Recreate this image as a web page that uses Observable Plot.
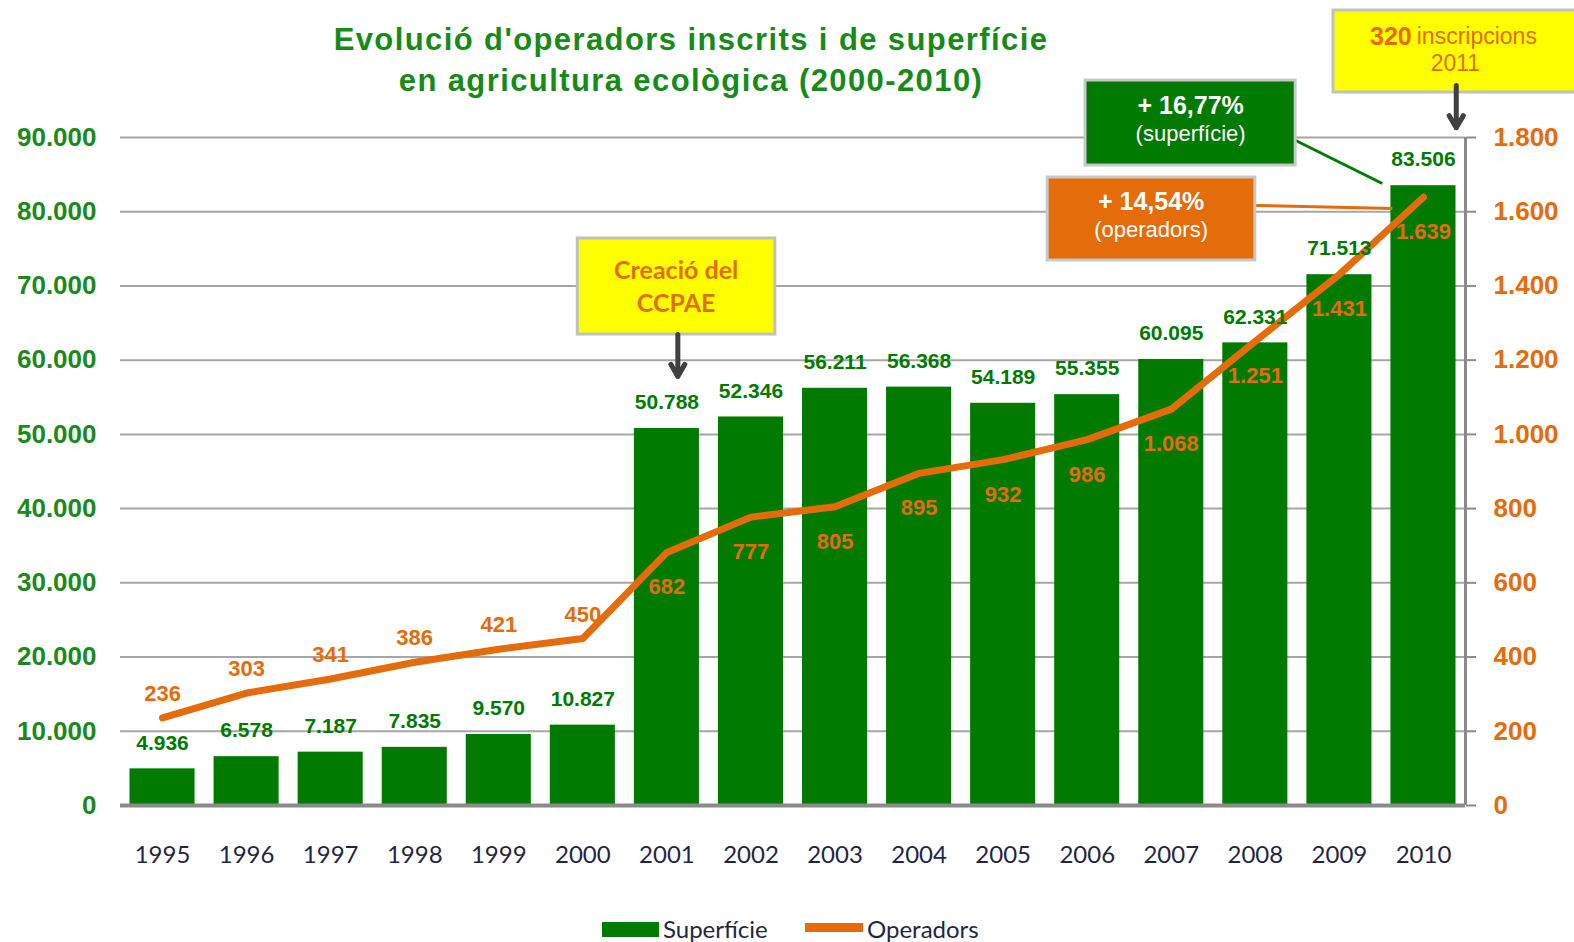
<!DOCTYPE html>
<html>
<head>
<meta charset="utf-8">
<script src="https://cdn.jsdelivr.net/npm/d3@7"></script>
<script src="https://cdn.jsdelivr.net/npm/@observablehq/plot@0.6"></script>
<style>
  body { margin: 0; background: white; }
  #wrap { position: relative; width: 1574px; height: 942px; overflow: hidden; background: white; }
  #title { position: absolute; left: 0; top: 19px; width: 1382px; text-align: center;
    font-family: "Liberation Sans", Arial, sans-serif; font-weight: bold; font-size: 31px;
    letter-spacing: 1.4px; line-height: 41px; color: #178a17; }
  #chart { position: absolute; left: 0; top: 0; }
  .leg { position: absolute; font-family: Lato, sans-serif; font-size: 24px; color: #1f2740; line-height: 24px; }
</style>
</head>
<body>
<div id="wrap">
  <div id="chart"></div>
  <div id="title">Evolució d'operadors inscrits i de superfície<br>en agricultura ecològica (2000-2010)</div>
  <div style="position:absolute;left:602px;top:922px;width:57px;height:15px;background:#007a00"></div>
  <div class="leg" style="left:663px;top:917px">Superfície</div>
  <div style="position:absolute;left:805px;top:923px;width:58px;height:9px;background:#e46c0a"></div>
  <div class="leg" style="left:867px;top:917px">Operadors</div>
</div>
<script>
const years = [1995, 1996, 1997, 1998, 1999, 2000, 2001, 2002, 2003, 2004, 2005, 2006, 2007, 2008, 2009, 2010];
const superficie = [4936, 6578, 7187, 7835, 9570, 10827, 50788, 52346, 56211, 56368, 54189, 55355, 60095, 62331, 71513, 83506];
const operadors = [236, 303, 341, 386, 421, 450, 682, 777, 805, 895, 932, 986, 1068, 1251, 1431, 1639];
const leftTicks = [0, 10000, 20000, 30000, 40000, 50000, 60000, 70000, 80000, 90000];
const ratio = 90000 / 1800; // right axis (operadors) mapped onto left scale

const rows = years.map((year, i) => ({year, sup: superficie[i], ops: operadors[i]}));
const fmt = d3.formatLocale({decimal: ",", thousands: ".", grouping: [3], currency: ["", "€"]}).format(",d");

const GREEN = "#007a00", ORANGE = "#e46c0a", GRID = "#a6a6a6", AXIS = "#8a8a8a";
const txtGreen = "#1a8a1a";

// Annotations (positioned in data coordinates)
const annCCPAE = {box: {x1: 1999.94, x2: 2002.29, y1: 63458, y2: 76392}, lines: [{x: 2001.11, y: 72080, t: "Creació del"}, {x: 2001.11, y: 67634, t: "CCPAE"}], arrow: {x: 2001.13, y1: 63458, y2: 57800}};
const annSup = {box: {x1: 2005.98, x2: 2008.48, y1: 86227, y2: 97679}, l1: {x: 2007.23, y: 94311, t: "+ 16,77%"}, l2: {x: 2007.23, y: 90539, t: "(superfície)"}, link: {x1: 2008.48, y1: 89595, x2: 2009.51, y2: 83802}};
const annOps = {box: {x1: 2005.53, x2: 2008.0, y1: 73428, y2: 84610}, l1: {x: 2006.76, y: 81377, t: "+ 14,54%"}, l2: {x: 2006.76, y: 77604, t: "(operadors)"}, link: {x1: 2008.0, y1: 80838, x2: 2009.63, y2: 80434}};
const ann2011 = {box: {x1: 2008.93, x2: 2012.2, y1: 96062, y2: 107110}, bold: {x: 2009.86, y: 103607, t: "320"}, rest: {x: 2009.92, y: 103607, t: "inscripcions"}, l2: {x: 2010.38, y: 99970, t: "2011"}, arrow: {x: 2010.39, y1: 97006, y2: 91300}};

const plot = Plot.plot({
  width: 1574, height: 900,
  marginLeft: 120, marginRight: 109, marginTop: 137, marginBottom: 95,
  x: {type: "linear", domain: [1994.5, 2010.5]},
  y: {domain: [0, 90000]},
  style: {fontFamily: "'Liberation Sans', Arial, sans-serif", background: "transparent", overflow: "visible"},
  marks: [
    Plot.ruleY(leftTicks.filter(d => d > 0), {stroke: GRID, strokeWidth: 2}),
    Plot.rectY(rows, {x1: d => d.year - 0.387, x2: d => d.year + 0.387, y1: 0, y2: "sup", fill: GREEN}),
    Plot.ruleY([0], {stroke: AXIS, strokeWidth: 4}),
    Plot.ruleX([2010.5], {stroke: AXIS, strokeWidth: 3}),
    Plot.axisY({anchor: "left", ticks: leftTicks, tickFormat: fmt, tickSize: 0, tickPadding: 24,
      fill: txtGreen, fontSize: 26, fontWeight: "bold", label: null}),
    Plot.axisY({anchor: "right", ticks: leftTicks, tickFormat: d => fmt(d / ratio), tickSize: 10, tickPadding: 18,
      stroke: AXIS, strokeWidth: 2, fill: ORANGE, fontSize: 26, fontWeight: "bold", label: null}),
    Plot.axisX({ticks: years, tickFormat: d => String(d), tickSize: 0, tickPadding: 40,
      fill: "#1f2740", fontSize: 24, fontFamily: "Lato, sans-serif", label: null}),
    Plot.line(rows, {x: "year", y: d => d.ops * ratio, stroke: ORANGE, strokeWidth: 7}),
    Plot.text(rows, {x: "year", y: "sup", text: d => fmt(d.sup), dy: -26, fill: GREEN, fontSize: 21, fontWeight: "bold"}),
    Plot.text(rows.filter(d => d.year <= 2000), {x: "year", y: d => d.ops * ratio, text: d => fmt(d.ops), dy: -24, fill: ORANGE, fontSize: 22, fontWeight: "bold"}),
    Plot.text(rows.filter(d => d.year > 2000), {x: "year", y: d => d.ops * ratio, text: d => fmt(d.ops), dy: 35, fill: ORANGE, fontSize: 22, fontWeight: "bold"}),

    // CCPAE annotation
    Plot.rect([annCCPAE.box], {x1: "x1", x2: "x2", y1: "y1", y2: "y2", fill: "#ffff00", stroke: "#c0c0c0", strokeWidth: 3}),
    Plot.text(annCCPAE.lines, {x: "x", y: "y", text: "t", fill: ORANGE, fontSize: 25, fontWeight: "bold", fontFamily: "Lato, sans-serif"}),
    Plot.arrow([annCCPAE.arrow], {x: "x", y1: "y1", y2: "y2", stroke: "#404040", strokeWidth: 5, headLength: 16}),

    // connectors
    Plot.link([annSup.link], {x1: "x1", y1: "y1", x2: "x2", y2: "y2", stroke: GREEN, strokeWidth: 3}),
    Plot.link([annOps.link], {x1: "x1", y1: "y1", x2: "x2", y2: "y2", stroke: ORANGE, strokeWidth: 3}),

    // superficie box
    Plot.rect([annSup.box], {x1: "x1", x2: "x2", y1: "y1", y2: "y2", fill: GREEN, stroke: "#c8c8c8", strokeWidth: 3}),
    Plot.text([annSup.l1], {x: "x", y: "y", text: "t", fill: "white", fontSize: 25, fontWeight: "bold"}),
    Plot.text([annSup.l2], {x: "x", y: "y", text: "t", fill: "white", fontSize: 22}),

    // operadors box
    Plot.rect([annOps.box], {x1: "x1", x2: "x2", y1: "y1", y2: "y2", fill: ORANGE, stroke: "#c8c8c8", strokeWidth: 3}),
    Plot.text([annOps.l1], {x: "x", y: "y", text: "t", fill: "white", fontSize: 25, fontWeight: "bold"}),
    Plot.text([annOps.l2], {x: "x", y: "y", text: "t", fill: "white", fontSize: 22}),

    // 2011 box
    Plot.rect([ann2011.box], {x1: "x1", x2: "x2", y1: "y1", y2: "y2", fill: "#ffff00", stroke: "#c0c0c0", strokeWidth: 3}),
    Plot.text([ann2011.bold], {x: "x", y: "y", text: "t", fill: ORANGE, fontSize: 25, fontWeight: "bold", textAnchor: "end"}),
    Plot.text([ann2011.rest], {x: "x", y: "y", text: "t", fill: ORANGE, fontSize: 23, textAnchor: "start"}),
    Plot.text([ann2011.l2], {x: "x", y: "y", text: "t", fill: ORANGE, fontSize: 23}),
    Plot.arrow([ann2011.arrow], {x: "x", y1: "y1", y2: "y2", stroke: "#404040", strokeWidth: 5, headLength: 16})
  ]
});
document.getElementById("chart").appendChild(plot);
</script>
</body>
</html>
